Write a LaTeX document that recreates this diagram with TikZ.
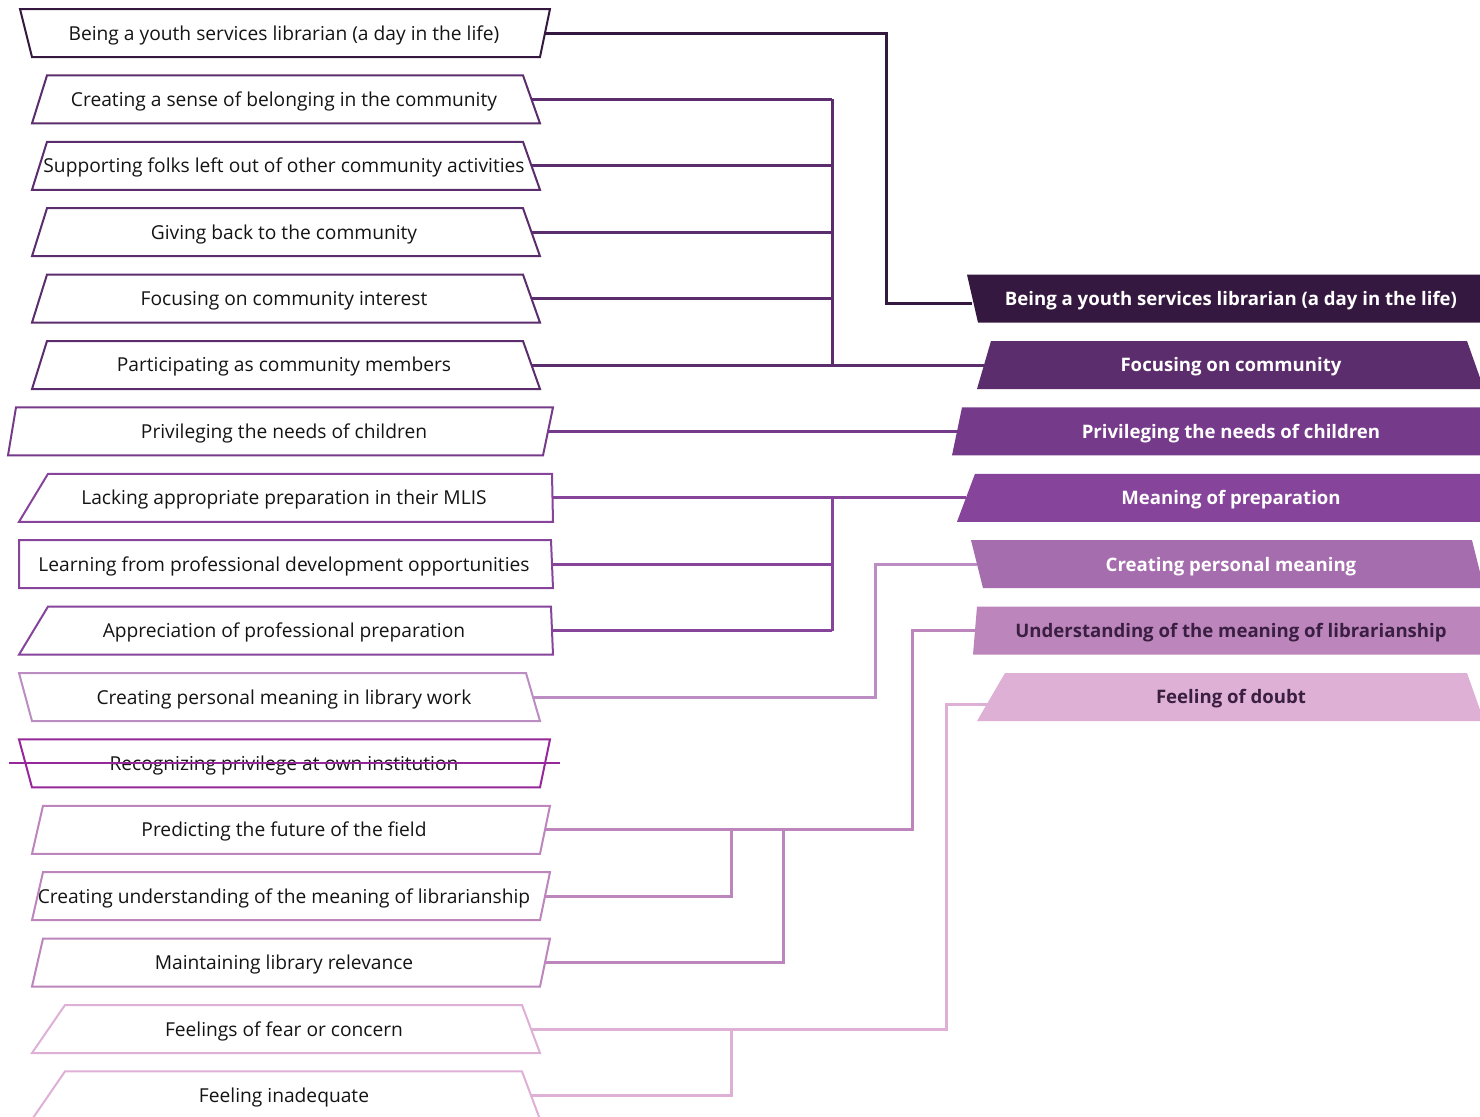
\documentclass[tikz,border=0pt]{standalone}
\usepackage{fontspec}
\setmainfont{Open Sans}
\usetikzlibrary{calc}
\definecolor{cDay}{HTML}{35183F}
\definecolor{cCommunity}{HTML}{5C2D6D}
\definecolor{cChildren}{HTML}{763A8A}
\definecolor{cPreparation}{HTML}{86449A}
\definecolor{cPersonal}{HTML}{A66DAE}
\definecolor{cPersonalLine}{HTML}{BC8DC3}
\definecolor{cPrivilege}{HTML}{96289A}
\definecolor{cLibrarianship}{HTML}{BC86BC}
\definecolor{cDoubt}{HTML}{DFB0D6}
\definecolor{textGrey}{HTML}{141414}
\definecolor{textDark}{HTML}{3A1F42}
\tikzset{
  codeBox/.style={line width=1pt, line join=miter},
  codeText/.style={font=\fontsize{9.6}{11}\selectfont, text=textGrey, inner sep=0pt},
  themeText/.style={font=\fontsize{9.3}{11}\selectfont\bfseries, inner sep=0pt},
  link/.style={line width=1.5pt},
}
% left box: name, colour, centre y, x top-left, x top-right, x bottom-right, x bottom-left, text
\newcommand{\codebox}[8]{%
  \draw[codeBox,#2] (#4,#3-24) -- (#5,#3-24) -- (#6,#3+24) -- (#7,#3+24) -- cycle;
  \node[codeText] (#1) at (284,#3+2) {#8};
  \coordinate (#1-e) at ({(#5+#6)/2},#3);
}
% right box: name, fill, text colour, centre y, x top-left, x top-right, x bottom-right, x bottom-left, text
\newcommand{\themebox}[9]{%
  \fill[#2] (#5,#4-24) -- (#6,#4-24) -- (#7,#4+24) -- (#8,#4+24) -- cycle;
  \node[themeText,text=#3] (#1) at (1231,#4+2) {#9};
}

\begin{document}
\begin{tikzpicture}[x=0.5pt,y=-0.5pt]
  \useasboundingbox (0,0) rectangle (1480,1116);

  % codes
  \codebox{l1}{cDay}{33}{20}{550}{540}{32}{Being a youth services librarian (a day in the life)}
  \codebox{l2}{cCommunity}{99.4}{47}{523}{540}{32}{Creating a sense of belonging in the community}
  \codebox{l3}{cCommunity}{165.8}{47}{523}{540}{32}{Supporting folks left out of other community activities}
  \codebox{l4}{cCommunity}{232.2}{47}{523}{540}{32}{Giving back to the community}
  \codebox{l5}{cCommunity}{298.6}{47}{523}{540}{32}{Focusing on community interest}
  \codebox{l6}{cCommunity}{365}{47}{523}{540}{32}{Participating as community members}
  \codebox{l7}{cChildren}{431.4}{16}{553}{543}{8}{Privileging the needs of children}
  \codebox{l8}{cPreparation}{497.8}{48}{552}{553}{19}{Lacking appropriate preparation in their MLIS}
  \codebox{l9}{cPreparation}{564.2}{19}{551}{553}{19}{Learning from professional development opportunities}
  \codebox{l10}{cPreparation}{630.6}{48}{551}{553}{19}{Appreciation of professional preparation}
  \codebox{l11}{cPersonalLine}{697}{19}{526}{540}{32}{Creating personal meaning in library work}
  \codebox{l12}{cPrivilege}{763.4}{19}{550}{540}{32}{Recognizing privilege at own institution}
  \codebox{l13}{cLibrarianship}{829.8}{43}{550}{540}{32}{Predicting the future of the field}
  \codebox{l14}{cLibrarianship}{896.2}{43}{550}{540}{32}{Creating understanding of the meaning of librarianship}
  \codebox{l15}{cLibrarianship}{962.6}{43}{550}{540}{32}{Maintaining library relevance}
  \codebox{l16}{cDoubt}{1029}{65}{522}{540}{32}{Feelings of fear or concern}
  \codebox{l17}{cDoubt}{1095.4}{65}{522}{540}{32}{Feeling inadequate}

  \draw[codeBox,cPrivilege] (9,763.4) -- (560,763.4);

  % themes
  \themebox{r1}{cDay}{white}{298.6}{967}{1490}{1490}{978}{Being a youth services librarian (a day in the life)}
  \themebox{r2}{cCommunity}{white}{365}{991}{1467}{1484}{977}{Focusing on community}
  \themebox{r3}{cChildren}{white}{431.4}{962}{1490}{1490}{952}{Privileging the needs of children}
  \themebox{r4}{cPreparation}{white}{497.8}{975}{1490}{1490}{957}{Meaning of preparation}
  \themebox{r5}{cPersonal}{white}{564.2}{971}{1472}{1484}{983}{Creating personal meaning}
  \themebox{r6}{cLibrarianship}{textDark}{630.6}{977}{1490}{1490}{973}{Understanding of the meaning of librarianship}
  \themebox{r7}{cDoubt}{textDark}{697}{1005}{1467}{1484}{977}{Feeling of doubt}

  \coordinate (r1-w) at (972,303);
  \coordinate (r2-w) at (984,365);
  \coordinate (r3-w) at (957,431.4);
  \coordinate (r4-w) at (966,497.8);
  \coordinate (r5-w) at (977,564.2);
  \coordinate (r6-w) at (975,630.6);
  \coordinate (r7-w) at (991,704);

  \coordinate (jDay) at (886,0);
  \coordinate (jCommunity) at (832,0);
  \coordinate (jPersonal) at (875,0);
  \coordinate (jLibrarianship) at (912,0);
  \coordinate (jFuture) at (731,0);
  \coordinate (jRelevance) at (783,0);
  \coordinate (jDoubt) at (946,0);

  % links
  \draw[link,cDay] (l1-e) -- (l1-e -| jDay) -- (jDay |- r1-w) -- (r1-w);

  \draw[link,cCommunity]
    (l2-e) -- (l2-e -| jCommunity)
    (l3-e) -- (l3-e -| jCommunity)
    (l4-e) -- (l4-e -| jCommunity)
    (l5-e) -- (l5-e -| jCommunity)
    (l2-e -| jCommunity) -- (l6-e -| jCommunity)
    (l6-e) -- (r2-w)
    ;

  \draw[link,cChildren] (l7-e) -- (r3-w);

  \draw[link,cPreparation]
    (l8-e) -- (r4-w)
    (l9-e) -- (l9-e -| jCommunity)
    (l10-e) -- (l10-e -| jCommunity)
    (l8-e -| jCommunity) -- (l10-e -| jCommunity)
    ;

  \draw[link,cPersonalLine] (l11-e) -- (l11-e -| jPersonal) -- (jPersonal |- r5-w) -- (r5-w);

  \draw[link,cLibrarianship]
    (l13-e) -- (l13-e -| jLibrarianship) -- (jLibrarianship |- r6-w) -- (r6-w)
    (l14-e) -- (l14-e -| jFuture) -- (jFuture |- l13-e)
    (l15-e) -- (l15-e -| jRelevance) -- (jRelevance |- l13-e)
    ;

  \draw[link,cDoubt]
    (l16-e) -- (l16-e -| jDoubt) -- (jDoubt |- r7-w) -- (r7-w)
    (l17-e) -- (l17-e -| jFuture) -- (jFuture |- l16-e)
    ;

\end{tikzpicture}
\end{document}
